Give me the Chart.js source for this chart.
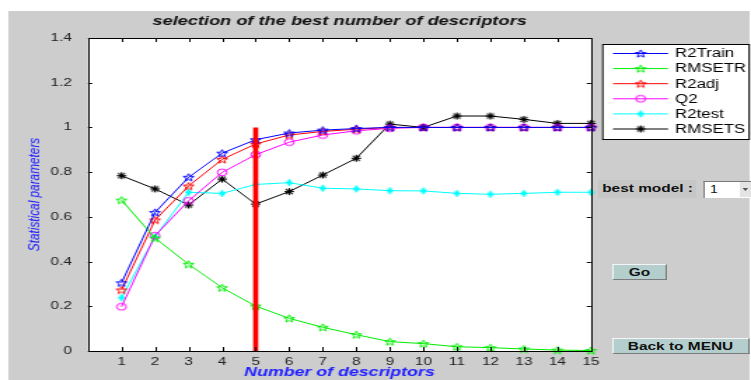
<!DOCTYPE html>
<html>
<head>
<meta charset="utf-8">
<script src="https://cdn.jsdelivr.net/npm/chart.js@4.4.0/dist/chart.umd.min.js"></script>
<style>
    html, body { margin: 0; padding: 0; background: #ffffff; }
    /* the source screenshot is stretched sideways, so the whole panel is drawn narrow and scaled */
    #stage { position: absolute; left: 0; top: 0; width: 536px; height: 380px; transform: scaleX(1.40112); transform-origin: 0 0; }
    #panel { position: absolute; left: 6.4px; top: 11px; width: 528.2px; height: 369px; background: #cdcdcd; }
    #chart { position: absolute; left: 0; top: 0; }
    .ui { position: absolute; font-family: "Liberation Sans", Arial, sans-serif; font-size: 11px; font-weight: bold; color: #111; box-sizing: border-box; }
    .lbl { left: 426.8px; top: 180px; width: 70.7px; height: 18px; line-height: 17px; padding-left: 3px; background: #c6c6c6; }
    .pop { left: 501.7px; top: 181px; width: 35px; height: 17px; background: #fff; border-top: 1px solid #7a7a7a; border-left: 1px solid #7a7a7a; font-weight: normal; font-size: 10px; line-height: 15px; padding-left: 4px; }
    .pop .arr { position: absolute; right: 0; top: 0; width: 9px; height: 15px; background: #e4e4e4; }
    .pop .arr:after { content: ""; position: absolute; left: 2px; top: 6px; border-left: 2.5px solid transparent; border-right: 2.5px solid transparent; border-top: 3px solid #555; }
    .btn { left: 436.8px; height: 16px; background: #b4cdcd; border-top: 1px solid #f4f4f4; border-left: 1px solid #f4f4f4; border-right: 1px solid #7c7c7c; border-bottom: 1px solid #7c7c7c; text-align: center; line-height: 14px; }
    .go { top: 263.5px; width: 39.3px; }
    .back { top: 337.5px; width: 97.8px; }
</style>
</head>
<body>
<div id="stage">
    <div id="panel"></div>
    <canvas id="chart" width="536" height="380"></canvas>
    <div class="ui lbl">best model :</div>
    <div class="ui pop">1<span class="arr"></span></div>
    <div class="ui btn go">Go</div>
    <div class="ui btn back">Back to MENU</div>
</div>
<script>
// values
const descriptors = [1, 2, 3, 4, 5, 6, 7, 8, 9, 10, 11, 12, 13, 14, 15];
const r2Train = [0.305, 0.62, 0.777, 0.885, 0.945, 0.975, 0.988, 0.995, 1.0, 1.0, 1.0, 1.0, 1.0, 1.0, 1.0];
const rmsetr  = [0.675, 0.505, 0.388, 0.283, 0.201, 0.146, 0.106, 0.073, 0.042, 0.033, 0.019, 0.015, 0.009, 0.004, 0.002];
const r2adj   = [0.273, 0.586, 0.738, 0.857, 0.926, 0.966, 0.982, 0.992, 1.0, 1.0, 1.0, 1.0, 1.0, 1.0, 1.0];
const q2      = [0.198, 0.516, 0.672, 0.799, 0.878, 0.934, 0.966, 0.985, 0.996, 1.0, 1.0, 1.0, 1.0, 1.0, 1.0];
const r2test  = [0.238, 0.511, 0.71, 0.705, 0.745, 0.753, 0.728, 0.725, 0.717, 0.716, 0.705, 0.701, 0.705, 0.71, 0.71];
const rmsets  = [0.784, 0.725, 0.653, 0.769, 0.657, 0.713, 0.787, 0.862, 1.015, 1.0, 1.051, 1.051, 1.036, 1.018, 1.018];
const bestModel = 5;
const bestLine = [0, 1];
const yTicks = [0, 0.2, 0.4, 0.6, 0.8, 1, 1.2, 1.4];

const FONT = '"Liberation Sans", Arial, sans-serif';

// small canvases used as point styles (MATLAB markers)
function makeMarker(shape, color) {
    const s = 11, m = s / 2;
    const c = document.createElement('canvas');
    c.width = s; c.height = s;
    const g = c.getContext('2d');
    g.strokeStyle = color;
    g.lineWidth = 1;
    g.beginPath();
    if (shape === 'pent') {
        const r = 4;
        for (let i = 0; i < 10; i++) {
            const a = -Math.PI / 2 + i * Math.PI / 5;
            const rr = i % 2 ? r * 0.42 : r;
            const px = m + rr * Math.cos(a), py = m + 0.4 + rr * Math.sin(a);
            if (i === 0) g.moveTo(px, py); else g.lineTo(px, py);
        }
        g.closePath();
    } else if (shape === 'circle') {
        g.arc(m, m, 3.4, 0, Math.PI * 2);
    } else if (shape === 'plus') {
        g.moveTo(m, m - 3.5); g.lineTo(m, m + 3.5);
        g.moveTo(m - 2.5, m); g.lineTo(m + 2.5, m);
        g.moveTo(m - 1.8, m - 1.8); g.lineTo(m + 1.8, m + 1.8);
        g.moveTo(m - 1.8, m + 1.8); g.lineTo(m + 1.8, m - 1.8);
        g.lineWidth = 1.2;
    } else {
        const r = 3.5, d = r * 0.72;
        g.moveTo(m, m - r); g.lineTo(m, m + r);
        g.moveTo(m - r, m); g.lineTo(m + r, m);
        g.moveTo(m - d, m - d); g.lineTo(m + d, m + d);
        g.moveTo(m - d, m + d); g.lineTo(m + d, m - d);
        g.lineWidth = 1.1;
    }
    g.stroke();
    return c;
}

function series(label, values, color, shape) {
    return {
        label: label,
        data: values.map((v, i) => ({ x: descriptors[i], y: v })),
        borderColor: color,
        backgroundColor: color,
        borderWidth: 1,
        pointStyle: makeMarker(shape, color),
        pointRadius: 5,
        pointHoverRadius: 5,
        tension: 0,
        clip: 8,
        order: 2
    };
}

const datasets = [
    series('R2Train', r2Train, '#0000ff', 'pent'),
    series('RMSETR', rmsetr, '#00ee00', 'pent'),
    series('R2adj', r2adj, '#ff0000', 'pent'),
    series('Q2', q2, '#ff00ff', 'circle'),
    series('R2test', r2test, '#00ffff', 'plus'),
    series('RMSETS', rmsets, '#000000', 'ast'),
    {
        label: 'best',
        data: bestLine.map(v => ({ x: bestModel, y: v })),
        borderColor: '#ff0000',
        borderWidth: 3.6,
        pointRadius: 0,
        clip: 8,
        order: 0
    }
];

// white axes box, black frame, inward ticks on all four sides
const axesBox = {
    id: 'axesBox',
    beforeDatasetsDraw(chart) {
        const { ctx, chartArea: a } = chart;
        ctx.save();
        ctx.fillStyle = '#ffffff';
        ctx.fillRect(a.left, a.top, a.right - a.left, a.bottom - a.top);
        ctx.restore();
    },
    afterDatasetsDraw(chart) {
        const { ctx, chartArea: a, scales } = chart;
        ctx.save();
        ctx.strokeStyle = '#000';
        ctx.lineWidth = 1;
        ctx.strokeRect(Math.round(a.left) + 0.5, Math.round(a.top) + 0.5, Math.round(a.right - a.left), Math.round(a.bottom - a.top));
        ctx.beginPath();
        descriptors.forEach(v => {
            const x = Math.round(scales.x.getPixelForValue(v)) + 0.5;
            ctx.moveTo(x, a.bottom); ctx.lineTo(x, a.bottom - 4);
            ctx.moveTo(x, a.top); ctx.lineTo(x, a.top + 4);
        });
        yTicks.forEach(v => {
            const y = Math.round(scales.y.getPixelForValue(v)) + 0.5;
            ctx.moveTo(a.left, y); ctx.lineTo(a.left + 3, y);
            ctx.moveTo(a.right, y); ctx.lineTo(a.right - 3, y);
        });
        ctx.stroke();
        ctx.restore();
    }
};

// MATLAB style legend box to the right of the axes
const sideLegend = {
    id: 'sideLegend',
    afterDraw(chart) {
        const ctx = chart.ctx;
        const box = { x: 429.7, y: 44, w: 104.5, h: 95 };
        ctx.save();
        ctx.fillStyle = '#fff';
        ctx.fillRect(box.x, box.y, box.w, box.h);
        ctx.strokeStyle = '#000';
        ctx.lineWidth = 1;
        ctx.strokeRect(box.x + 0.5, box.y + 0.5, box.w, box.h);
        ctx.font = '12px ' + FONT;
        ctx.textBaseline = 'middle';
        chart.data.datasets.slice(0, 6).forEach((ds, i) => {
            const y = 53.5 + i * 15.1;
            ctx.strokeStyle = ds.borderColor;
            ctx.beginPath();
            ctx.moveTo(437.5, y); ctx.lineTo(476.8, y);
            ctx.stroke();
            ctx.drawImage(ds.pointStyle, 457.2 - 5.5, y - 5.5);
            ctx.fillStyle = '#000';
            ctx.fillText(ds.label, 481.8, y + 0.5);
        });
        ctx.restore();
    }
};

new Chart(document.getElementById('chart'), {
    type: 'line',
    data: { datasets: datasets },
    options: {
        responsive: false,
        animation: false,
        events: [],
        layout: { padding: { left: 0, right: 114.2, top: 0, bottom: 0 } },
        plugins: {
            legend: { display: false },
            tooltip: { enabled: false }
        },
        scales: {
            // top axis only carries the title so that it is centred over the axes box
            top: {
                type: 'linear',
                position: 'top',
                min: 0,
                max: 15,
                grid: { display: false, drawTicks: false },
                border: { display: false },
                ticks: { display: false },
                afterFit: scale => { scale.height = 38; },
                title: {
                    display: true,
                    text: 'selection of the best number of descriptors',
                    color: '#111',
                    font: { family: FONT, size: 13, weight: 'bold', style: 'italic' },
                    padding: { top: 13.2, bottom: 0 }
                }
            },
            x: {
                type: 'linear',
                min: 0,
                max: 15,
                grid: { display: false, drawTicks: false },
                border: { display: false },
                afterBuildTicks: scale => { scale.ticks = descriptors.map(v => ({ value: v })); },
                afterFit: scale => { scale.height = 29; },
                ticks: {
                    color: '#222',
                    padding: 4,
                    autoSkip: false,
                    maxRotation: 0,
                    font: { family: FONT, size: 11 }
                },
                title: {
                    display: true,
                    text: 'Number of descriptors',
                    color: '#2020ff',
                    font: { family: FONT, size: 12.7, weight: 'bold', style: 'italic' },
                    padding: { top: 0, bottom: 0 }
                }
            },
            y: {
                min: 0,
                max: 1.4,
                grid: { display: false, drawTicks: false },
                border: { display: false },
                afterBuildTicks: scale => { scale.ticks = yTicks.map(v => ({ value: v })); },
                afterFit: scale => { scale.width = 62.8; },
                ticks: {
                    color: '#222',
                    padding: 11.4,
                    font: { family: FONT, size: 11 },
                    callback: v => String(Number(v.toFixed(1)))
                },
                title: {
                    display: true,
                    text: 'Statistical parameters',
                    color: '#2020ff',
                    font: { family: FONT, size: 11.8, style: 'italic' },
                    padding: { top: 18, bottom: 0 }
                }
            }
        }
    },
    plugins: [axesBox, sideLegend]
});
</script>
</body>
</html>
